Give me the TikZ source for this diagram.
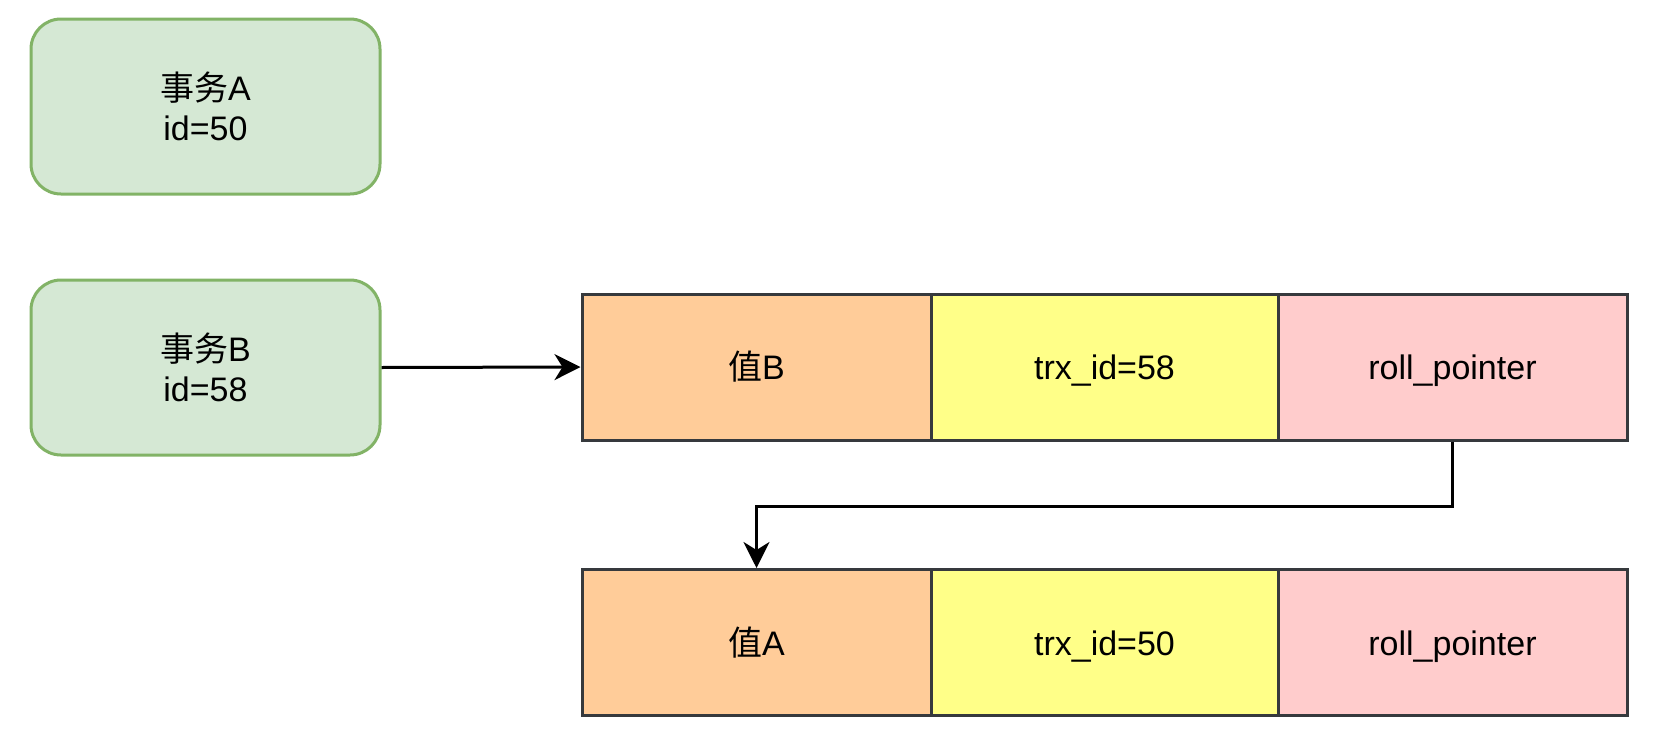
\documentclass[tikz,border=0pt]{standalone}
\usepackage{fontspec}
\setmainfont{Liberation Sans}
\newfontfamily\cjk{Noto Sans CJK SC}
\usetikzlibrary{arrows.meta}
\definecolor{gfill}{HTML}{D5E8D4}
\definecolor{gdraw}{HTML}{82B366}
\definecolor{cdraw}{HTML}{36393D}
\definecolor{ofill}{HTML}{FFCC99}
\definecolor{yfill}{HTML}{FFFF88}
\definecolor{pfill}{HTML}{FFCCCC}
\tikzset{
  txbox/.style={draw=gdraw, fill=gfill, line width=3pt, rounded corners=30pt,
    minimum width=349pt, minimum height=175pt, align=center, inner sep=0pt,
    font=\fontsize{34pt}{40pt}\selectfont},
  cell/.style={draw=cdraw, line width=3pt, minimum height=146pt, inner sep=0pt,
    text height=25pt, text depth=0pt,
    font=\fontsize{34pt}{40pt}\selectfont},
  conn/.style={line width=3pt, -{Stealth[length=26pt, width=26pt, inset=8pt]}}
}
\begin{document}
\begin{tikzpicture}[x=1pt, y=-1pt]
\useasboundingbox[fill=white] (0,0) rectangle (1668,736);
\node[txbox] (ta) at (205.5,106.5) {{\cjk 事务}A\\id=50};
\node[txbox] (tb) at (205.5,367.5) {{\cjk 事务}B\\id=58};
% row 1
\node[cell, fill=ofill, minimum width=349pt] (vb) at (756.5,367) {{\cjk 值}B};
\node[cell, fill=yfill, minimum width=347pt] (tr1) at (1104.5,367) {trx\_id=58};
\node[cell, fill=pfill, minimum width=349pt] (rp1) at (1452.5,367) {roll\_pointer};
% row 2
\node[cell, fill=ofill, minimum width=349pt] (va) at (756.5,642.5) {{\cjk 值}A};
\node[cell, fill=yfill, minimum width=347pt] (tr2) at (1104.5,642.5) {trx\_id=50};
\node[cell, fill=pfill, minimum width=349pt] (rp2) at (1452.5,642.5) {roll\_pointer};
% connectors
\draw[conn] (tb.east) -- (vb.west);
\draw[conn] (rp1.south) -- ++(0,65) -| (va.north);
\end{tikzpicture}
\end{document}
